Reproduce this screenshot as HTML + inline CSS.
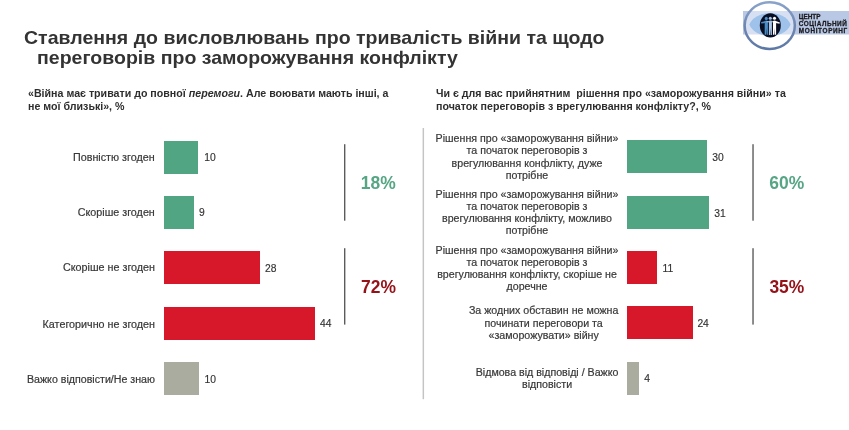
<!DOCTYPE html>
<html lang="uk"><head><meta charset="utf-8">
<title>Ставлення до висловлювань</title>
<style>
html,body{margin:0;padding:0;background:#fff;}
body{width:849px;height:430px;position:relative;overflow:hidden;font-family:"Liberation Sans",sans-serif;color:#333;}
.abs{position:absolute;white-space:nowrap;}
.title{font-weight:bold;font-size:18.6px;line-height:21px;color:#333;transform:scaleX(1.05);transform-origin:0 0;}
.sub{font-weight:bold;font-size:10.65px;line-height:13px;color:#2e2e2e;white-space:pre;}
.lab{position:absolute;font-size:10.75px;line-height:13px;color:#383838;-webkit-text-stroke:0.2px #383838;text-align:right;white-space:nowrap;}
.labc{position:absolute;right:230.6px;font-size:10.65px;line-height:12.1px;color:#383838;-webkit-text-stroke:0.2px #383838;text-align:center;white-space:nowrap;}
.val{position:absolute;font-size:10.3px;line-height:13px;color:#333;-webkit-text-stroke:0.15px #333;white-space:nowrap;}
.bar{position:absolute;}
.g{background:#52a582;}
.r{background:#d7182a;}
.k{background:#aaac9f;}
.pct{position:absolute;font-weight:bold;font-size:17.45px;line-height:20px;white-space:nowrap;}
</style></head><body>
<div class="abs title" style="left:23.6px;top:26.7px;">Ставлення до висловлювань про тривалість війни та щодо</div>
<div class="abs title" style="left:37.1px;top:46.5px;">переговорів про заморожування конфлікту</div>

<div class="abs sub" style="left:28px;top:86.5px;">«Війна має тривати до повної <i>перемоги</i>. Але воювати мають інші, а
не мої близькі», %</div>
<div class="abs sub" style="left:436px;top:86.5px;">Чи є для вас прийнятним  рішення про «заморожування війни» та
початок переговорів з врегулювання конфлікту?, %</div>

<svg class="abs" style="left:0;top:0;" width="849" height="430" viewBox="0 0 849 430">
 <rect x="422.6" y="128" width="1.45" height="271.2" fill="#c4c4c4"/>
 <g fill="#4a4a4a">
 <rect x="344.1" y="144.2" width="1.25" height="76.5"/>
 <rect x="344.1" y="248.2" width="1.25" height="76.4"/>
 <rect x="752.4" y="144.2" width="1.25" height="76.5"/>
 <rect x="752.4" y="248.2" width="1.25" height="76.4"/>
 </g>
</svg>
<!-- left chart -->
<div class="lab" style="right:694.4px;top:151.4px;">Повністю згоден</div>
<div class="bar g" style="left:164px;top:141px;width:34px;height:33px;"></div>
<div class="val" style="left:204.2px;top:151.4px;">10</div>

<div class="lab" style="right:694.2px;top:206.4px;">Скоріше згоден</div>
<div class="bar g" style="left:164px;top:196px;width:30px;height:33px;"></div>
<div class="val" style="left:199px;top:206px;">9</div>

<div class="lab" style="right:694px;top:261px;">Скоріше не згоден</div>
<div class="bar r" style="left:164px;top:251px;width:96px;height:33px;"></div>
<div class="val" style="left:265px;top:262px;">28</div>

<div class="lab" style="right:694px;top:318px;">Категорично не згоден</div>
<div class="bar r" style="left:164px;top:307px;width:151px;height:33px;"></div>
<div class="val" style="left:320px;top:317.25px;">44</div>

<div class="lab" style="right:694px;top:372.75px;font-size:10.65px;">Важко відповісти/Не знаю</div>
<div class="bar k" style="left:164px;top:362px;width:35px;height:33px;"></div>
<div class="val" style="left:204.5px;top:372.75px;">10</div>

<div class="pct" style="left:360.8px;top:173.3px;color:#56a585;">18%</div>
<div class="pct" style="left:361px;top:277px;color:#951219;">72%</div>

<!-- right chart -->
<div class="labc" style="top:132.4px;">Рішення про «заморожування війни»<br>та початок переговорів з<br>врегулювання конфлікту, дуже<br>потрібне</div>
<div class="bar g" style="left:627px;top:140px;width:80px;height:33px;"></div>
<div class="val" style="left:712.2px;top:151px;">30</div>

<div class="labc" style="top:188.2px;">Рішення про «заморожування війни»<br>та початок переговорів з<br>врегулювання конфлікту, можливо<br>потрібне</div>
<div class="bar g" style="left:627px;top:196px;width:82px;height:33px;"></div>
<div class="val" style="left:714.2px;top:206.5px;">31</div>

<div class="labc" style="top:243.5px;">Рішення про «заморожування війни»<br>та початок переговорів з<br>врегулювання конфлікту, скоріше не<br>доречне</div>
<div class="bar r" style="left:627px;top:251px;width:30px;height:32.5px;"></div>
<div class="val" style="left:662.5px;top:262.25px;">11</div>

<div class="labc" style="top:304.4px;line-height:12.5px;">За жодних обставин не можна<br>починати переговори та<br>«заморожувати» війну</div>
<div class="bar r" style="left:627px;top:306px;width:66.4px;height:32.5px;"></div>
<div class="val" style="left:697.4px;top:317.25px;">24</div>

<div class="labc" style="top:366.25px;">Відмова від відповіді / Важко<br>відповісти</div>
<div class="bar k" style="left:627px;top:362px;width:12.3px;height:33px;"></div>
<div class="val" style="left:644.2px;top:372px;">4</div>

<div class="pct" style="left:769.3px;top:173.3px;color:#56a585;">60%</div>
<div class="pct" style="left:769.4px;top:277px;color:#951219;">35%</div>

<!-- logo -->
<svg class="abs" style="left:729px;top:0;" width="120" height="60" viewBox="0 0 120 60">
 <defs><linearGradient id="rg" x1="0" y1="0" x2="0" y2="1"><stop offset="0" stop-color="#8aa3cb"/><stop offset="0.5" stop-color="#6f87b0"/><stop offset="1" stop-color="#5e78a6"/></linearGradient><clipPath id="cc"><ellipse cx="40.75" cy="25.6" rx="25.1" ry="23.4"/></clipPath></defs>
 <rect x="14" y="11" width="106" height="23.5" fill="#b8c8e5"/>
 <ellipse cx="40.75" cy="25.6" rx="25.1" ry="23.4" fill="#fff"/>
 <rect x="14" y="11" width="56" height="23.5" fill="#d6e0f2" clip-path="url(#cc)"/>
 <path d="M20.4,24.6 C23.5,16.5 33,13.1 41,13.1 C49,13.1 58.5,16.5 61.6,24.6 C58.5,32.7 49,36.1 41,36.1 C33,36.1 23.5,32.7 20.4,24.6 Z" fill="#9ec2ea"/>
 <ellipse cx="40.75" cy="25.6" rx="25.1" ry="23.4" fill="none" stroke="url(#rg)" stroke-width="2.5"/>
 <ellipse cx="41.3" cy="25.4" rx="10.5" ry="12.2" fill="#090e22"/>
 <g fill="#4a8dc6" stroke="none">
  <circle cx="37.3" cy="18.4" r="1.55"/>
  <path d="M35.7,21 Q37.3,20.2 38.9,21 L38.9,34.8 L37.6,34.8 L37.3,28 L37,34.8 L35.7,34.8 Z"/>
  <path d="M36.2,21 L32,22.3 L32.3,23.5 L36.2,23 Z"/>
 </g>
 <g fill="#a9c7e8" stroke="none">
  <circle cx="41.3" cy="18.2" r="1.55"/>
  <path d="M39.9,20.8 Q41.4,20 42.9,20.8 L42.9,34.9 L41.7,34.9 L41.4,28 L41.1,34.9 L39.9,34.9 Z"/>
  <path d="M37.5,21.2 L45,21.2 L45,22.3 L37.5,22.3 Z"/>
 </g>
 <g fill="#ffffff" stroke="none">
  <circle cx="45.5" cy="18.2" r="1.55"/>
  <path d="M44,20.9 Q45.5,20.1 47.1,20.9 L47.1,34.7 L45.85,34.7 L45.55,28 L45.25,34.7 L44,34.7 Z"/>
  <path d="M46.6,20.9 L50.9,22.6 L50.5,23.8 L46.6,23 Z"/>
 </g>
 <g font-family="Liberation Sans, sans-serif" font-weight="bold" font-size="6.4" fill="#1c1c1e" stroke="#1c1c1e" stroke-width="0.28">
 <text x="69.8" y="18.7" textLength="21.6" lengthAdjust="spacing">ЦЕНТР</text>
 <text x="69.8" y="25.5" textLength="48" lengthAdjust="spacing">СОЦІАЛЬНИЙ</text>
 <text x="69.8" y="32.7" textLength="48.4" lengthAdjust="spacing">МОНІТОРИНГ</text>
 </g>
</svg>
</body></html>
